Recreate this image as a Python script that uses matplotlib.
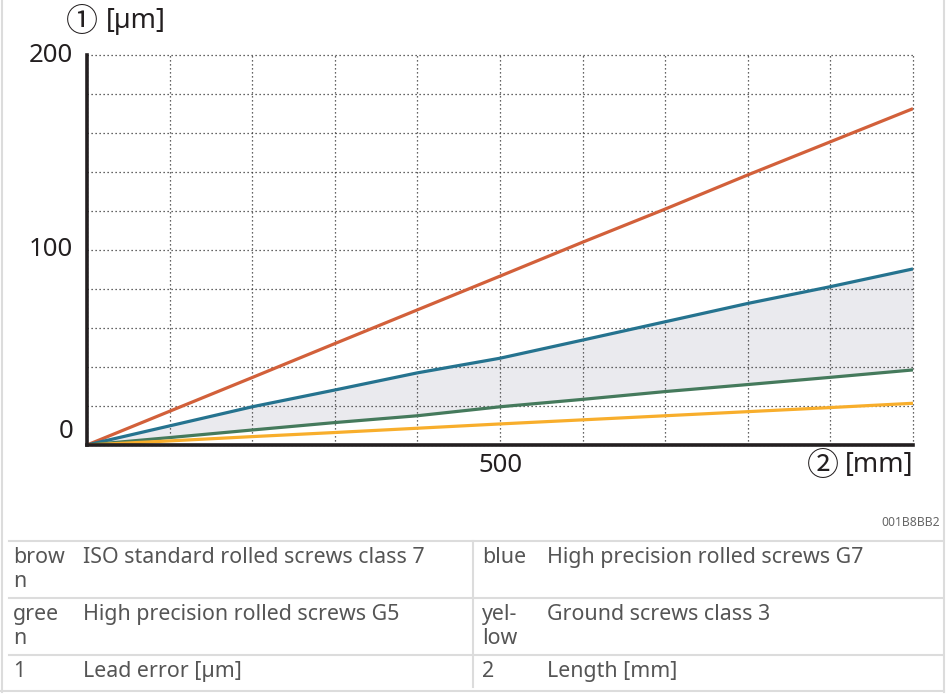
import matplotlib.pyplot as plt
from matplotlib.lines import Line2D
from matplotlib.transforms import ScaledTranslation

# chart data
length_mm = [0, 100, 200, 300, 400, 500, 600, 700, 800, 900, 1000]
brown_iso7 = [0, 17.3, 34.6, 52.0, 69.3, 86.6, 104.0, 121.0, 138.5, 155.5, 172.5]
blue_g7 = [0, 9.8, 19.6, 28.2, 37.0, 44.5, 53.8, 63.2, 72.6, 81.2, 90.3]
green_g5 = [0, 3.8, 7.7, 11.5, 15.0, 19.6, 23.4, 27.4, 31.0, 34.7, 38.5]
yellow_c3 = [0, 2.1, 4.3, 6.4, 8.6, 10.8, 12.9, 15.0, 17.1, 19.2, 21.4]

y_labels = [0, 100, 200]
x_labels = [500]

# legend table
table_keys = [["brow\nn", "blue"], ["gree\nn", "yel-\nlow"], ["1", "2"]]
table_text = [["ISO standard rolled screws class 7", "High precision rolled screws G7"],
              ["High precision rolled screws G5", "Ground screws class 3"],
              ["Lead error [µm]", "Length [mm]"]]

W, H = 946, 698
FONT = ["Noto Sans", "DejaVu Sans"]
CIRC_FONT = ["Noto Sans", "Noto Sans CJK JP", "DejaVu Sans"]
plt.rcParams["font.family"] = FONT

fig = plt.figure(figsize=(W / 100, H / 100), dpi=100)


def fx(px):
    return px / W


def fy(py):
    return 1 - py / H


ax = fig.add_axes([fx(87), fy(445), fx(913) - fx(87), fy(55) - fy(445)])

ax.fill_between(length_mm, green_g5, blue_g7, color="#EAEAEE", lw=0, zorder=1)
ax.plot(length_mm, brown_iso7, color="#D2603A", lw=2.3, zorder=3, solid_capstyle="butt")
ax.plot(length_mm, blue_g7, color="#25738F", lw=2.3, zorder=3, solid_capstyle="butt")
ax.plot(length_mm, green_g5, color="#457A5C", lw=2.3, zorder=3, solid_capstyle="butt")
ax.plot(length_mm, yellow_c3, color="#F8AE2C", lw=2.3, zorder=3, solid_capstyle="butt")

ax.set_xlim(0, 1000)
ax.set_ylim(0, 200)

# dotted grid every 100 mm / 20 µm
ax.set_xticks(range(0, 1001, 100))
ax.set_yticks(range(0, 201, 20))
ax.set_xticklabels([])
ax.set_yticklabels([])
ax.tick_params(length=0)
ax.grid(True, color="#333333", linestyle=(0, (1, 2.2)), lw=0.9, zorder=0)
for gl in ax.get_xgridlines() + ax.get_ygridlines():
    gl.set_clip_on(False)

for side in ["top", "right"]:
    ax.spines[side].set_visible(False)
for side in ["left", "bottom"]:
    ax.spines[side].set_linewidth(2.6)
    ax.spines[side].set_color("#231F20")
    ax.spines[side].set_zorder(4)

# tick labels
for v in y_labels:
    dy = 9.5 / 72 if v == 0 else 0
    ax.text(0, v, str(v), ha="right", va="center", fontsize=18.5, color="#231F20",
            transform=ax.transData + ScaledTranslation(-14 / 100, dy, fig.dpi_scale_trans))
for v in x_labels:
    ax.text(v, 0, str(v), ha="center", va="center", fontsize=18.5, color="#231F20",
            transform=ax.transData + ScaledTranslation(0, -21 / 100, fig.dpi_scale_trans))

# axis names
fig.text(fx(82), fy(22), "\u2460", fontsize=23, family=CIRC_FONT, ha="center", va="center", color="#231F20")
fig.text(fx(106), fy(21), "[µm]", fontsize=19.5, ha="left", va="center", color="#231F20")
fig.text(fx(913), fy(465), "[mm]", fontsize=19.5, ha="right", va="center", color="#231F20")
fig.text(fx(823), fy(466), "\u2461", fontsize=23, family=CIRC_FONT, ha="center", va="center", color="#231F20")

fig.text(fx(940), fy(523), "001B8BB2", fontsize=8.8, ha="right", va="center", color="#666666")

# frame and table lines
grey = "#DCDCDC"
def hline(y, x0, x1, lw=1.5):
    fig.add_artist(Line2D([fx(x0), fx(x1)], [fy(y), fy(y)], color=grey, lw=lw))

def vline(x, y0, y1, lw=1.5):
    fig.add_artist(Line2D([fx(x), fx(x)], [fy(y0), fy(y1)], color=grey, lw=lw))

vline(1.5, 0, 692)
vline(943.5, 0, 692)
hline(691, 1, 944)

row_tops = [541, 598, 655]
for y in row_tops:
    hline(y, 9, 943)
vline(473, 541, 687)

key_x = [13, 482]
text_x = [83, 547]
for r, top in enumerate(row_tops):
    for c in range(2):
        fig.text(fx(key_x[c]), fy(top + 6), table_keys[r][c], fontsize=15.4, ha="left", va="top",
                 color="#555555", linespacing=1.2)
        fig.text(fx(text_x[c]), fy(top + 6), table_text[r][c], fontsize=15.4, ha="left", va="top",
                 color="#555555")

fig.savefig("out.png", dpi=100)
